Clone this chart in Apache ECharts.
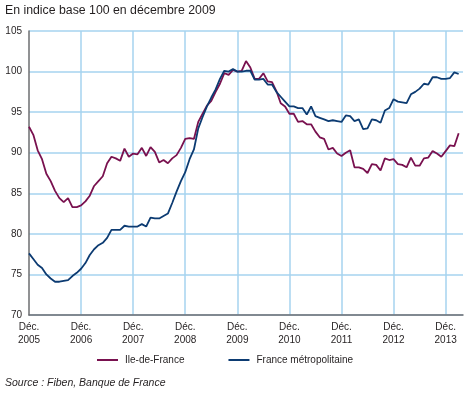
<!DOCTYPE html>
<html>
<head>
<meta charset="utf-8">
<script src="https://cdn.jsdelivr.net/npm/echarts@6/dist/echarts.min.js"></script>
<style>
    body { margin: 0; background: #fff; }
    #chart { width: 470px; height: 397px; }
</style>
</head>
<body>
<div id="chart"></div>
<script>
// années (étiquettes de l'axe, une par décembre)
var years = ['2005', '2006', '2007', '2008', '2009', '2010', '2011', '2012', '2013']

// indices mensuels, de décembre 2005 à mars 2014
var idf = [93.2, 92.2, 90.3, 89.2, 87.4, 86.5, 85.3, 84.4, 83.9, 84.4, 83.3, 83.3,
    83.5, 84.0, 84.7, 85.9, 86.5, 87.1, 88.7, 89.5, 89.3, 89.0, 90.5, 89.5,
    89.9, 89.8, 90.6, 89.6, 90.7, 90.1, 88.8, 89.1, 88.7, 89.3, 89.7, 90.6,
    91.7, 91.8, 91.7, 93.8, 94.8, 95.8, 96.4, 97.5, 98.5, 99.8, 99.6, 100.2,
    100.0, 100.1, 101.3, 100.5, 99.1, 99.1, 99.8, 98.8, 98.7, 97.6, 96.1, 95.7,
    94.8, 94.8, 93.8, 93.9, 93.5, 93.5, 92.6, 91.9, 91.7, 90.4, 90.6, 89.9,
    89.6, 90.0, 90.3, 88.2, 88.2, 88.0, 87.5, 88.6, 88.5, 87.8, 89.3, 89.1,
    89.2, 88.6, 88.5, 88.2, 89.4, 88.4, 88.4, 89.3, 89.4, 90.2, 89.9, 89.5,
    90.2, 90.9, 90.8, 92.4]

var fm = [77.6, 76.9, 76.2, 75.8, 75.0, 74.5, 74.1, 74.1, 74.2, 74.3, 74.8, 75.2,
    75.7, 76.4, 77.4, 78.1, 78.6, 78.9, 79.5, 80.5, 80.5, 80.5, 81.0, 80.9,
    80.9, 80.9, 81.2, 80.9, 82.0, 81.9, 81.9, 82.2, 82.5, 83.8, 85.2, 86.5,
    87.6, 89.2, 90.4, 93.0, 94.4, 95.7, 96.8, 97.8, 99.1, 100.1, 100.0, 100.3,
    100.0, 100.0, 100.1, 100.1, 99.0, 99.0, 99.1, 98.4, 98.4, 97.5, 96.9, 96.3,
    95.7, 95.7, 95.5, 95.5, 94.7, 95.7, 94.5, 94.3, 94.1, 93.9, 94.0, 93.9,
    93.8, 94.6, 94.5, 93.9, 94.1, 92.9, 93.0, 94.1, 94.0, 93.7, 95.2, 95.5,
    96.6, 96.3, 96.2, 96.1, 97.2, 97.5, 97.9, 98.5, 98.4, 99.3, 99.3, 99.1,
    99.1, 99.2, 99.9, 99.7]

var police = "'Liberation Sans Narrow', 'Liberation Sans', Arial, sans-serif"

function toPoints(arr) {
    let pts = []
    for (let i = 0; i < arr.length; i++) {
        pts.push([i, arr[i]])
    }
    return pts
}

var chartDom = document.getElementById('chart');
var myChart = echarts.init(chartDom);
var option;

option = {
    animation: false,
    title: [
        {
            text: 'En indice base 100 en décembre 2009',
            left: 5,
            top: 5,
            padding: 0,
            textStyle: {color: '#231f20', fontWeight: 'normal', fontFamily: police, fontSize: 12.3}
        },
        {
            text: 'Source : Fiben, Banque de France',
            left: 5,
            top: 378,
            padding: 0,
            textStyle: {color: '#231f20', fontWeight: 'normal', fontStyle: 'italic', fontFamily: police, fontSize: 10.5}
        }
    ],
    legend: {
        left: 97,
        top: 355,
        padding: 0,
        itemWidth: 21,
        itemHeight: 2,
        itemGap: 44,
        icon: 'rect',
        textStyle: {color: '#231f20', fontFamily: police, fontSize: 10, padding: [0, 0, 0, 2]},
        data: ['Ile-de-France', 'France métropolitaine']
    },
    grid: {
        left: 29,
        right: 7,
        top: 31,
        bottom: 82,
        containLabel: false
    },
    xAxis: {
        type: 'value',
        min: 0,
        max: 100,
        interval: 12,
        axisLine: {show: true, onZero: false, lineStyle: {color: '#6d6e71', width: 1.5}},
        axisTick: {show: false},
        splitLine: {show: true, showMinLine: false, showMaxLine: false, lineStyle: {color: '#a6d3ef', width: 1.5}},
        axisLabel: {
            color: '#231f20',
            fontFamily: police,
            fontSize: 10,
            lineHeight: 13,
            margin: 6,
            showMaxLabel: false,
            formatter: function (v) {
                if (v % 12 !== 0) return ''
                return 'Déc.\n' + years[v / 12]
            }
        }
    },
    yAxis: {
        type: 'value',
        min: 70,
        max: 105,
        interval: 5,
        axisLine: {show: true, lineStyle: {color: '#6d6e71', width: 1.5}},
        axisTick: {show: false},
        splitLine: {show: true, lineStyle: {color: '#a6d3ef', width: 1.5}},
        axisLabel: {color: '#231f20', fontFamily: police, fontSize: 10, margin: 7}
    },
    series: [
        {
            name: 'Ile-de-France',
            type: 'line',
            data: toPoints(idf),
            symbol: 'none',
            color: '#79114f',
            lineStyle: {width: 1.8}
        },
        {
            name: 'France métropolitaine',
            type: 'line',
            data: toPoints(fm),
            symbol: 'none',
            color: '#0c3b72',
            lineStyle: {width: 1.8}
        }
    ]
};

option && myChart.setOption(option);
</script>
</body>
</html>
